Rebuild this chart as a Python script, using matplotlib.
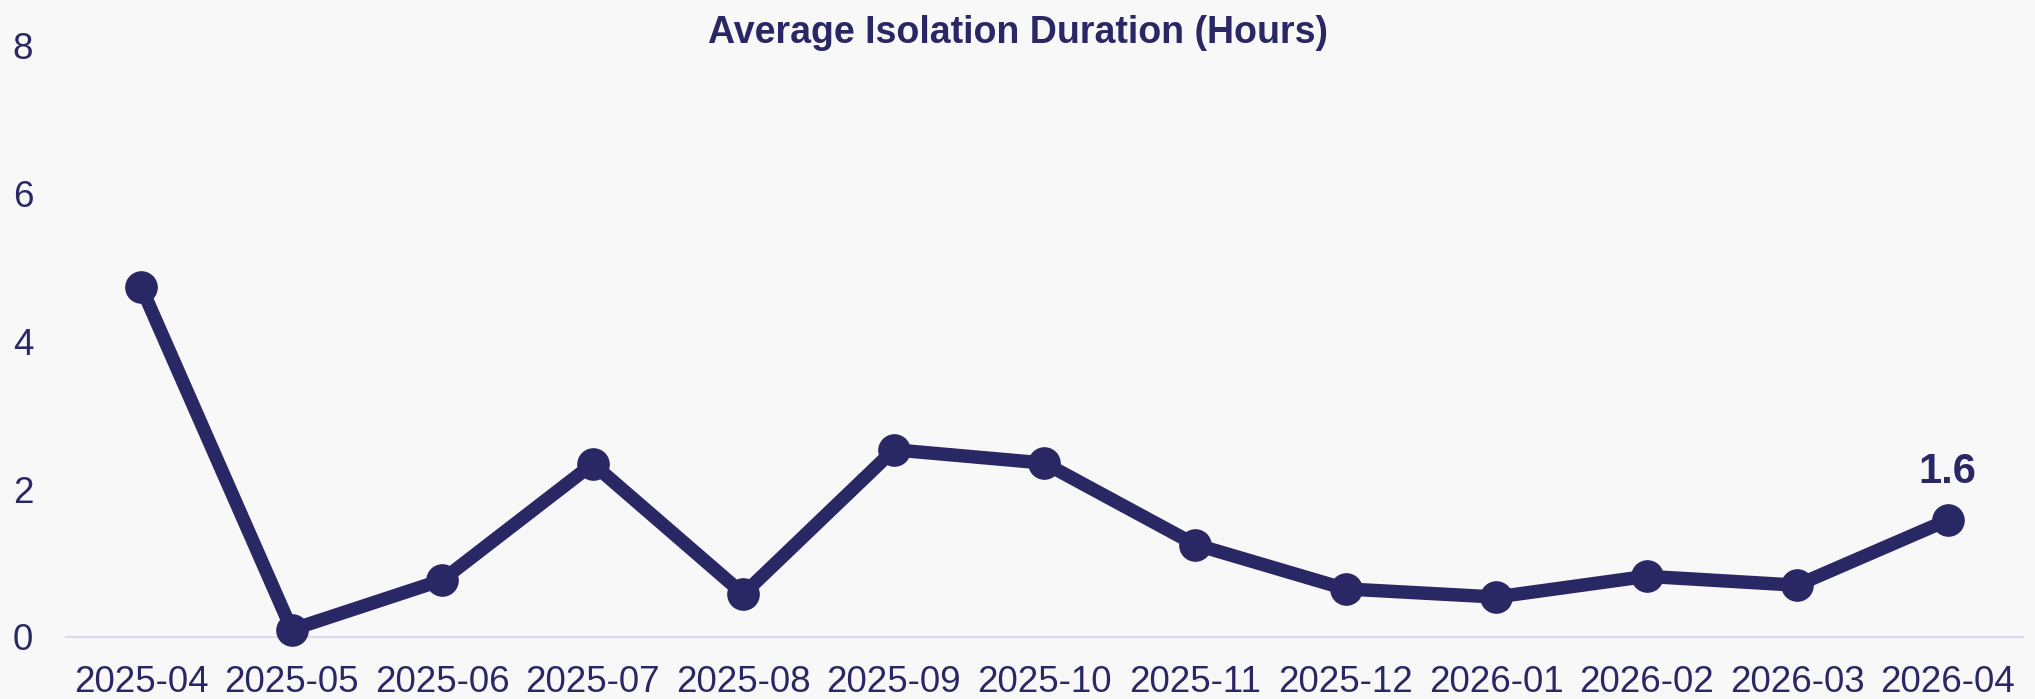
import matplotlib
matplotlib.use("Agg")
import matplotlib.pyplot as plt

# ---------- DATA ------------
months = ["2025-04", "2025-05", "2025-06", "2025-07", "2025-08", "2025-09", "2025-10",
          "2025-11", "2025-12", "2026-01", "2026-02", "2026-03", "2026-04"]
avg_hours = [4.73, 0.10, 0.77, 2.34, 0.58, 2.53, 2.35, 1.25, 0.65, 0.54, 0.82, 0.70, 1.58]
last_label = "1.6"
y_ticks = [0, 2, 4, 6, 8]
# ----------------------------

navy = "#2a2765"
bg = "#f8f8f8"
plt.rcParams["font.family"] = ["Liberation Sans", "DejaVu Sans"]

fig = plt.figure(figsize=(20.35, 6.99), dpi=100, facecolor=bg)
ax = fig.add_axes([0.0324, 0.0887, 0.9617, 0.8469], facecolor=bg)

x = list(range(len(months)))
ax.plot(x, avg_hours, color=navy, lw=9.7, marker="o", markersize=22.5,
        solid_joinstyle="round", clip_on=False, zorder=3)

ax.annotate(last_label, (x[-1], avg_hours[-1]), xytext=(0, 26.5), textcoords="offset points",
            ha="center", va="baseline", fontsize=30, fontweight="bold", color=navy)

ax.set_xlim(-0.5, len(months) - 0.5)
ax.set_ylim(0, 8)
ax.set_xticks(x)
ax.set_xticklabels(months)
ax.set_yticks(y_ticks)
ax.tick_params(axis="x", length=0, pad=20, labelsize=26.5, labelcolor=navy)
ax.tick_params(axis="y", length=0, pad=23.5, labelsize=26.5, labelcolor=navy)

for side in ["top", "right", "left"]:
    ax.spines[side].set_visible(False)
ax.spines["bottom"].set_color("#dcd9f0")
ax.spines["bottom"].set_linewidth(1.5)

fig.text(0.5, 0.938, "Average Isolation Duration (Hours)", ha="center", va="baseline",
         fontsize=27, fontweight="bold", color=navy)

fig.savefig("out.png", dpi=100, facecolor=bg)
